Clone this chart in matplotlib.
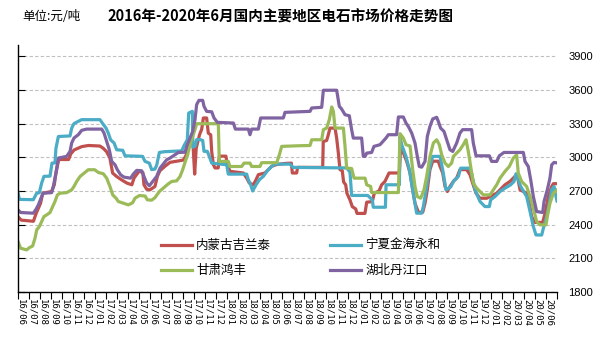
import matplotlib
matplotlib.use('Agg')
from matplotlib import pyplot as plt

plt.rcParams['font.family'] = ['Noto Sans CJK SC', 'DejaVu Sans']

# x 为自 2016/06 起的月份数, y 为价格(元/吨)
nmg_x = [0.0, 0.3, 1.4, 1.65, 2.05, 2.25, 3.05, 3.3, 3.45, 3.7, 4.6, 4.8, 5.1, 5.8, 6.4, 7.45, 7.75, 8.05,
         8.35, 8.6, 8.95, 9.4, 9.9, 10.35, 10.55, 11.0, 11.35, 11.45, 11.7, 12.0, 12.45, 12.67, 12.9, 13.36,
         13.82, 15.03, 15.27, 15.48, 15.7, 15.9, 16.06, 16.2, 16.5, 16.7, 16.85, 17.15, 17.3, 17.52, 17.61,
         17.76, 17.91, 18.2, 18.3, 18.9, 19.03, 19.27, 20.48, 20.79, 21.03, 21.39, 21.64, 21.85, 22.45, 22.76,
         23.06, 23.5, 24.27, 24.85, 24.94, 25.33, 25.42, 27.7, 27.75, 28.06, 28.21, 28.36, 28.82, 28.97,
         29.12, 29.27, 29.48, 29.6, 29.79, 29.9, 30.18, 30.39, 30.7, 30.82, 31.54, 31.7, 32.21, 32.39, 32.82,
         33.06, 33.36, 33.73, 34.67, 34.79, 35.03, 35.33, 35.64, 35.88, 36.09, 36.4, 36.79, 37.0, 37.21,
         37.45, 37.7, 38.21, 38.36, 38.61, 38.82, 39.03, 39.27, 39.58, 39.88, 40.18, 40.79, 41.09, 41.33,
         41.64, 42.0, 42.61, 43.21, 43.52, 43.82, 44.27, 44.73, 45.18, 45.4, 45.64, 46.24, 46.48, 46.7, 47.0,
         47.7, 47.91, 48.21, 48.52, 48.67, 49.0]
nmg_y = [2470, 2440, 2430, 2500, 2590, 2680, 2695, 2755, 2860, 2980, 2980, 3030, 3065, 3095, 3105, 3100, 3080,
         3050, 2995, 2860, 2830, 2800, 2770, 2755, 2815, 2875, 2865, 2755, 2715, 2710, 2740, 2830, 2880, 2920,
         2955, 2975, 3015, 3080, 3135, 3130, 2850, 3080, 3200, 3250, 3350, 3350, 3215, 3200, 3050, 2935, 2905,
         2905, 3010, 3010, 2935, 2875, 2860, 2815, 2770, 2755, 2800, 2845, 2860, 2890, 2920, 2935, 2945, 2948,
         2860, 2860, 2910, 2910, 3140, 3150, 3200, 3260, 3260, 3170, 3040, 2890, 2880, 2780, 2755, 2680, 2620,
         2560, 2540, 2500, 2500, 2600, 2605, 2680, 2700, 2755, 2785, 2860, 2860, 3110, 3040, 2965, 2860, 2710,
         2590, 2510, 2510, 2590, 2710, 2890, 2965, 2965, 2920, 2860, 2740, 2695, 2740, 2785, 2815, 2890, 2890,
         2845, 2770, 2680, 2635, 2635, 2665, 2680, 2710, 2755, 2785, 2830, 2830, 2710, 2680, 2590, 2470, 2420,
         2420, 2500, 2650, 2740, 2765, 2765]

nx_x = [0.0, 0.12, 1.39, 1.7, 1.94, 2.15, 2.36, 2.91, 3.09, 3.36, 3.45, 3.67, 4.73, 4.88, 5.09, 5.48, 5.79,
        7.45, 7.7, 8.0, 8.21, 8.42, 8.73, 8.97, 9.52, 9.73, 11.33, 11.55, 11.94, 12.15, 12.45, 12.61, 12.85,
        13.36, 14.88, 15.09, 15.39, 15.52, 15.85, 15.9, 16.1, 16.24, 16.55, 16.79, 16.91, 17.21, 17.39,
        17.61, 18.97, 19.12, 20.79, 20.94, 21.15, 21.33, 21.64, 21.94, 22.3, 22.67, 23.06, 23.36, 24.73,
        25.0, 29.88, 30.18, 30.33, 31.79, 32.21, 32.3, 33.4, 33.46, 34.67, 34.73, 34.88, 35.27, 35.58, 35.88,
        36.24, 36.7, 36.85, 37.15, 37.45, 37.7, 38.36, 38.61, 38.91, 39.33, 39.64, 40.03, 40.24, 41.09,
        41.27, 41.55, 42.0, 42.45, 42.85, 42.97, 43.36, 43.82, 44.27, 44.79, 45.09, 45.27, 45.48, 45.7,
        46.24, 46.55, 46.85, 47.09, 47.61, 47.76, 48.06, 48.3, 48.52, 48.73, 48.91, 49.0]
nx_y = [2686, 2625, 2622, 2680, 2685, 2770, 2830, 2832, 2948, 2950, 3080, 3185, 3190, 3260, 3300, 3320, 3335,
        3335, 3300, 3260, 3215, 3155, 3128, 3067, 3062, 3013, 3008, 2963, 2948, 2890, 2895, 2930, 3043, 3050,
        3057, 3103, 3156, 3394, 3409, 3090, 3100, 3157, 3157, 3150, 3053, 3053, 3008, 2948, 2933, 2850, 2850,
        2800, 2755, 2700, 2755, 2800, 2830, 2880, 2918, 2939, 2939, 2910, 2905, 2868, 2660, 2660, 2621, 2555,
        2555, 2755, 2755, 3186, 3112, 3008, 2889, 2710, 2502, 2502, 2561, 2740, 2918, 3008, 3008, 2889, 2710,
        2735, 2793, 2829, 2903, 2903, 2844, 2710, 2606, 2561, 2561, 2621, 2650, 2695, 2725, 2755, 2784, 2853,
        2800, 2740, 2650, 2517, 2383, 2308, 2308, 2368, 2472, 2591, 2710, 2740, 2650, 2610]

gs_x = [0.0, 0.24, 0.79, 1.03, 1.33, 1.55, 1.7, 1.94, 2.15, 2.36, 2.61, 2.91, 3.15, 3.36, 3.58, 3.82, 4.42,
        4.88, 5.09, 5.33, 5.64, 6.09, 6.39, 6.97, 7.3, 7.76, 8.06, 8.36, 8.61, 8.91, 9.12, 9.58, 10.03, 10.42,
        10.64, 11.03, 11.55, 11.76, 12.15, 12.45, 12.85, 13.21, 13.67, 13.97, 14.42, 14.73, 14.97, 15.21,
        15.42, 15.64, 15.88, 16.09, 16.24, 18.21, 18.3, 19.12, 19.27, 20.33, 20.55, 21.09, 21.24, 22.0, 22.15,
        23.52, 23.76, 23.97, 25.64, 26.55, 26.7, 27.61, 27.76, 28.06, 28.3, 28.52, 28.67, 28.82, 29.58, 29.73,
        29.88, 30.33, 30.55, 31.55, 31.7, 32.06, 32.15, 34.58, 34.73, 35.03, 35.27, 35.64, 35.88, 36.09, 36.3,
        36.61, 36.91, 37.15, 37.45, 37.76, 38.06, 38.3, 38.52, 38.82, 39.12, 39.42, 39.58, 39.88, 40.18,
        40.48, 40.73, 40.94, 41.15, 41.39, 41.7, 42.3, 42.91, 43.21, 43.52, 43.82, 44.27, 44.67, 45.03, 45.33,
        45.48, 45.79, 46.24, 46.55, 46.85, 47.15, 47.45, 48.0, 48.12, 48.36, 48.67, 49.0]
gs_y = [2249, 2190, 2175, 2195, 2210, 2280, 2353, 2383, 2427, 2472, 2487, 2508, 2561, 2606, 2665, 2680, 2685,
        2710, 2740, 2784, 2829, 2865, 2889, 2889, 2865, 2853, 2814, 2740, 2665, 2636, 2606, 2591, 2576, 2595,
        2636, 2659, 2655, 2621, 2618, 2640, 2695, 2725, 2764, 2784, 2790, 2829, 2889, 2963, 3022, 3112, 3186,
        3246, 3299, 3299, 2963, 2963, 2918, 2918, 2948, 2948, 2918, 2918, 2952, 2952, 3022, 3097, 3103, 3105,
        3156, 3156, 3246, 3260, 3335, 3448, 3409, 3260, 3260, 3097, 2903, 2900, 2814, 2814, 2755, 2740, 2686,
        2686, 3210, 3171, 3112, 3100, 2889, 2740, 2650, 2636, 2710, 2829, 3008, 3127, 3156, 3112, 3022, 2948,
        2918, 2948, 3008, 3037, 3067, 3112, 3156, 3050, 2918, 2770, 2725, 2665, 2665, 2710, 2755, 2814, 2874,
        2918, 2993, 3022, 2859, 2784, 2740, 2650, 2546, 2427, 2398, 2398, 2472, 2591, 2680, 2710]

hb_x = [0.0, 0.24, 1.39, 1.64, 1.85, 2.15, 2.3, 3.06, 3.21, 3.45, 3.67, 4.42, 4.73, 4.88, 5.09, 5.48, 5.79,
        6.24, 7.61, 7.82, 8.06, 8.3, 8.52, 8.82, 9.03, 9.33, 9.64, 10.24, 10.48, 10.79, 11.24, 11.45, 11.7,
        11.94, 12.24, 12.61, 12.91, 13.15, 13.52, 13.82, 14.27, 14.58, 15.18, 15.39, 15.64, 15.88, 16.09,
        16.24, 16.45, 16.79, 16.91, 17.15, 17.61, 17.82, 18.12, 19.58, 19.76, 20.94, 21.09, 21.24, 21.85,
        22.06, 24.12, 24.27, 26.55, 26.7, 27.61, 27.76, 28.97, 29.21, 29.42, 29.73, 30.12, 30.33, 30.48,
        31.24, 31.39, 31.55, 31.7, 32.15, 32.36, 32.91, 33.45, 33.67, 34.42, 34.58, 35.03, 35.27, 35.48,
        35.79, 36.09, 36.3, 36.48, 36.7, 37.0, 37.21, 37.45, 37.7, 38.06, 38.21, 38.42, 38.73, 38.97, 39.27,
        39.52, 39.88, 40.18, 40.42, 41.24, 41.39, 41.64, 42.85, 43.06, 43.52, 43.76, 44.18, 45.94, 46.09,
        46.39, 46.61, 46.85, 47.15, 47.7, 47.82, 48.12, 48.36, 48.52, 48.73, 49.0]
hb_y = [2531, 2508, 2502, 2537, 2576, 2650, 2680, 2685, 2740, 2859, 2993, 3008, 3052, 3127, 3171, 3201, 3240,
        3251, 3251, 3216, 3141, 3067, 2963, 2933, 2889, 2844, 2823, 2814, 2850, 2883, 2880, 2829, 2770, 2746,
        2784, 2830, 2903, 2933, 2978, 2993, 3022, 3043, 3045, 3112, 3171, 3231, 3335, 3469, 3507, 3507, 3454,
        3409, 3405, 3350, 3311, 3305, 3251, 3251, 3201, 3251, 3251, 3350, 3350, 3400, 3409, 3439, 3445, 3597,
        3597, 3454, 3430, 3379, 3370, 3246, 3171, 3171, 3008, 3008, 3037, 3043, 3097, 3112, 3171, 3201, 3201,
        3359, 3359, 3305, 3275, 3216, 3127, 3008, 2918, 2912, 2963, 3186, 3275, 3341, 3356, 3320, 3260, 3230,
        3156, 3067, 3052, 3127, 3216, 3246, 3246, 3127, 3013, 3013, 2963, 2963, 3013, 3043, 3043, 2963, 2918,
        2799, 2650, 2517, 2508, 2606, 2710, 2814, 2933, 2954, 2950]

month_labels = ['16/06', '16/07', '16/08', '16/09', '16/10', '16/11', '16/12',
                '17/01', '17/02', '17/03', '17/04', '17/05', '17/06', '17/07', '17/08', '17/09', '17/10',
                '17/11', '17/12',
                '18/01', '18/02', '18/03', '18/04', '18/05', '18/06', '18/07', '18/08', '18/09', '18/10',
                '18/11', '18/12',
                '19/01', '19/02', '19/03', '19/04', '19/05', '19/06', '19/07', '19/08', '19/09', '19/10',
                '19/11', '19/12',
                '20/01', '20/02', '20/03', '20/04', '20/05', '20/06']
price_ticks = [1800, 2100, 2400, 2700, 3000, 3300, 3600, 3900]


def main():
    fig = plt.figure(figsize=(6.08, 3.44), dpi=100)
    ax = fig.add_axes([18 / 608, 1 - 292 / 344, (557 - 18) / 608, (292 - 45) / 344])

    l1, = ax.plot(nmg_x, nmg_y, color='#C0504D', lw=2.3, label='内蒙古吉兰泰')
    l2, = ax.plot(nx_x, nx_y, color='#4BACC6', lw=2.3, label='宁夏金海永和')
    l3, = ax.plot(gs_x, gs_y, color='#9BBB59', lw=2.3, label='甘肃鸿丰')
    l4, = ax.plot(hb_x, hb_y, color='#8064A2', lw=2.3, label='湖北丹江口')

    ax.set_xlim(0, len(month_labels))
    ax.set_ylim(1800, 4000)

    # y 轴: 刻度线在左侧朝内, 数字标在右侧
    ax.set_yticks(price_ticks)
    ax.set_yticklabels([str(v) for v in price_ticks], fontsize=8, family='Liberation Sans')
    ax.tick_params(axis='y', left=True, right=False, labelleft=False, labelright=True,
                   direction='in', length=5, width=0.8, pad=8)
    ax.grid(axis='y', color='#BFBFBF', linestyle=(0, (3, 2)), linewidth=0.8)
    ax.set_axisbelow(True)

    # x 轴: 刻度在各月分界处, 标签放在月份中间
    ax.set_xticks(range(len(month_labels) + 1), minor=True)
    ax.set_xticks([i + 0.3 for i in range(len(month_labels))])
    ax.set_xticklabels(month_labels, rotation=270, fontsize=6.5, family='DejaVu Sans Mono')
    ax.tick_params(axis='x', which='major', length=0, pad=5)
    ax.tick_params(axis='x', which='minor', length=5, width=0.8, direction='out')

    for side in ['top', 'right']:
        ax.spines[side].set_visible(False)
    ax.spines['left'].set_linewidth(1)
    ax.spines['bottom'].set_linewidth(1)

    fig.text(22 / 608, 1 - 17 / 344, '单位:元/吨', fontsize=9, va='center', ha='left')
    fig.text(280 / 608, 1 - 17 / 344, '2016年-2020年6月国内主要地区电石市场价格走势图',
             fontsize=10.5, fontweight='bold', va='center', ha='center')

    ax.legend(handles=[l1, l3, l2, l4], ncol=2, loc='upper left', frameon=False,
              bbox_to_anchor=(155 / 608, 1 - 233 / 344), bbox_transform=fig.transFigure,
              fontsize=9, borderpad=0, handlelength=2.5, handletextpad=0.3,
              columnspacing=4.7, labelspacing=0.95)

    fig.savefig('out.png', dpi=100)


if __name__ == '__main__':
    main()
